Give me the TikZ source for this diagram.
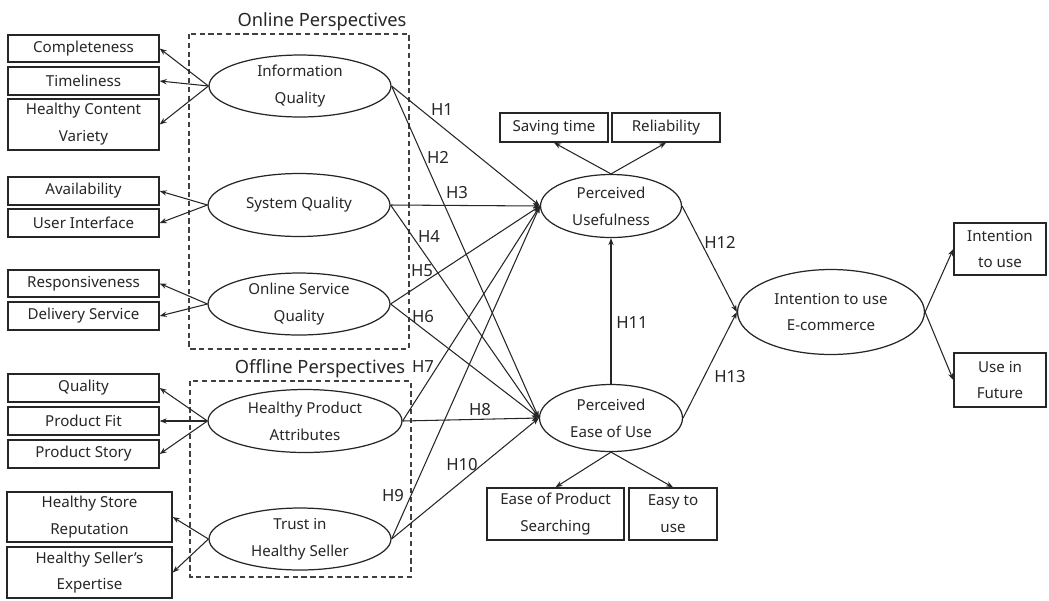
\documentclass[tikz,border=0pt]{standalone}
\usepackage{fontspec}
\setmainfont{Noto Sans}
\usetikzlibrary{shapes.geometric,arrows.meta,calc}
\begin{document}
\begin{tikzpicture}[x=0.02cm,y=-0.02cm,
  box/.style={draw=black!85, line width=0.8pt, inner sep=0pt, text=black!85,
    font=\fontsize{8.6}{15.3}\selectfont, align=center},
  lat/.style={ellipse, draw=black!85, line width=0.7pt, inner sep=0pt, text=black!85,
    font=\fontsize{8.6}{15.3}\selectfont, align=center},
  arr/.style={-{Stealth[length=4pt,width=3pt]}, line width=0.6pt, draw=black!85},
  hyp/.style={font=\fontsize{9.5}{11}\selectfont, text=black!85, inner sep=1pt},
  grp/.style={draw=black!75, dash pattern=on 3pt off 2pt, line width=0.7pt},
  grplabel/.style={font=\fontsize{10.4}{12}\selectfont, text=black!85}
]
\useasboundingbox (0,0) rectangle (1049,600);

% indicator boxes (left)
\node[box, minimum width=3.02cm, minimum height=0.54cm] (comp) at (83.5,48.5) {Completeness};
\node[box, minimum width=3.02cm, minimum height=0.56cm] (time) at (83.5,81) {Timeliness};
\node[box, minimum width=3.02cm, minimum height=1.02cm] (hcv) at (83.5,124.5) {Healthy Content\\Variety};
\node[box, minimum width=3.02cm, minimum height=0.56cm] (avail) at (83.5,191) {Availability};
\node[box, minimum width=3.02cm, minimum height=0.56cm] (ui) at (83.5,223) {User Interface};
\node[box, minimum width=3.02cm, minimum height=0.54cm] (resp) at (83.5,283.5) {Responsiveness};
\node[box, minimum width=3.02cm, minimum height=0.56cm] (deliv) at (83.5,316) {Delivery Service};
\node[box, minimum width=3.02cm, minimum height=0.56cm] (qual) at (83.5,388) {Quality};
\node[box, minimum width=3.02cm, minimum height=0.56cm] (pfit) at (83.5,421) {Product Fit};
\node[box, minimum width=3.02cm, minimum height=0.56cm] (pstory) at (83.5,454) {Product Story};
\node[box, minimum width=3.30cm, minimum height=1.00cm] (rep) at (89.5,517) {Healthy Store\\Reputation};
\node[box, minimum width=3.30cm, minimum height=1.02cm] (expt) at (89.5,572.5) {Healthy Seller's\\Expertise};

% other indicator boxes
\node[box, minimum width=2.16cm, minimum height=0.58cm] (save) at (554,127.5) {Saving time};
\node[box, minimum width=2.16cm, minimum height=0.58cm] (rel) at (666,127.5) {Reliability};
\node[box, minimum width=1.84cm, minimum height=1.04cm] (itubox) at (1000,249) {Intention\\to use};
\node[box, minimum width=1.84cm, minimum height=1.08cm] (fut) at (1000,380) {Use in\\Future};
\node[box, minimum width=2.74cm, minimum height=1.04cm] (eps) at (555.5,514) {Ease of Product\\Searching};
\node[box, minimum width=1.76cm, minimum height=1.04cm] (easy) at (673,514) {Easy to\\use};

% latent constructs
\node[lat, minimum width=3.64cm, minimum height=1.24cm] (iq) at (300,86) {Information\\Quality};
\node[lat, minimum width=3.64cm, minimum height=1.26cm] (sq) at (299,205) {System Quality};
\node[lat, minimum width=3.64cm, minimum height=1.24cm] (osq) at (299,304) {Online Service\\Quality};
\node[lat, minimum width=3.88cm, minimum height=1.26cm] (hpa) at (305,421) {Healthy Product\\Attributes};
\node[lat, minimum width=3.64cm, minimum height=1.24cm] (ths) at (300,539) {Trust in\\Healthy Seller};
\node[lat, minimum width=2.82cm, minimum height=1.26cm] (pu) at (611,206) {Perceived\\Usefulness};
\node[lat, minimum width=2.86cm, minimum height=1.34cm] (peu) at (611,418) {Perceived\\Ease of Use};
\node[lat, minimum width=3.74cm, minimum height=1.70cm] (itu) at (831,312) {Intention to use\\E-commerce};

% perspective groups
\draw[grp] (189,34) rectangle (409,349);
\draw[grp] (190,381) rectangle (411,577);
\node[grplabel] (onl) at (322,22) {Online Perspectives};
\node[grplabel] (offl) at (320,369) {Offline Perspectives};

% measurement arrows
\foreach \b in {comp,time,hcv} \draw[arr] (iq.west) -- (\b.east);
\foreach \b in {avail,ui} \draw[arr] (sq.west) -- (\b.east);
\foreach \b in {resp,deliv} \draw[arr] (osq.west) -- (\b.east);
\foreach \b in {qual,pfit,pstory} \draw[arr] (hpa.west) -- (\b.east);
\foreach \b in {rep,expt} \draw[arr] (ths.west) -- (\b.east);
\draw[arr] (pu.north) -- (save.south);
\draw[arr] (pu.north) -- (rel.south);
\draw[arr] (peu.south) -- (eps.north);
\draw[arr] (peu.south) -- (easy.north);
\draw[arr] (itu.east) -- (itubox.west);
\draw[arr] (itu.east) -- (fut.west);

% hypotheses
\draw[arr] (iq.east) -- (pu.west);
\draw[arr] (iq.east) -- (peu.west);
\draw[arr] (sq.east) -- (pu.west);
\draw[arr] (sq.east) -- (peu.west);
\draw[arr] (osq.east) -- (pu.west);
\draw[arr] (osq.east) -- (peu.west);
\draw[arr] (hpa.east) -- (pu.west);
\draw[arr] (hpa.east) -- (peu.west);
\draw[arr] (ths.east) -- (pu.west);
\draw[arr] (ths.east) -- (peu.west);
\draw[arr] (peu.north) -- (pu.south);
\draw[arr] (pu.east) -- (itu.west);
\draw[arr] (peu.east) -- (itu.west);

\node[hyp] (h1) at (442,110) {H1};
\node[hyp] (h2) at (438,157) {H2};
\node[hyp] (h3) at (457,193) {H3};
\node[hyp] (h4) at (429,236) {H4};
\node[hyp] (h5) at (422,271) {H5};
\node[hyp] (h6) at (423,317) {H6};
\node[hyp] (h7) at (423,367) {H7};
\node[hyp] (h8) at (480,410) {H8};
\node[hyp] (h9) at (393,496) {H9};
\node[hyp] (h10) at (462,465) {H10};
\node[hyp] (h11) at (632,323) {H11};
\node[hyp] (h12) at (720,242) {H12};
\node[hyp] (h13) at (730,377) {H13};
\end{tikzpicture}
\end{document}
